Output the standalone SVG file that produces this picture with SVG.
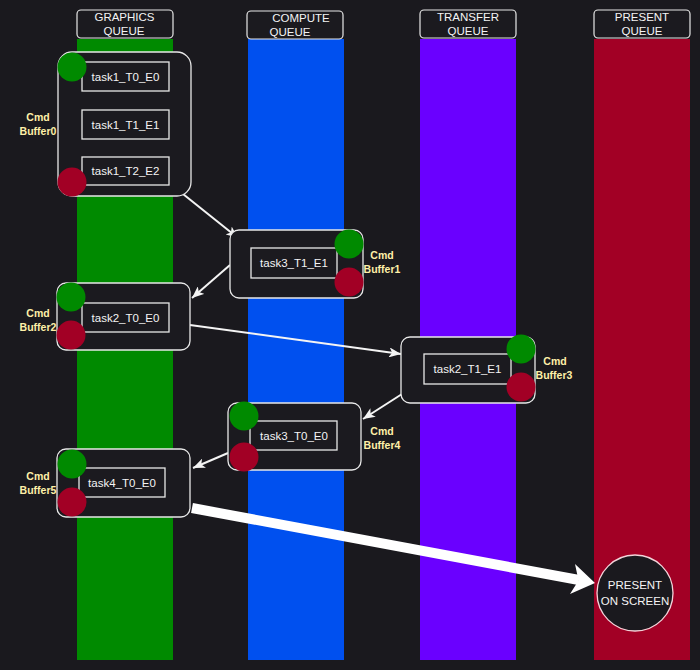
<svg xmlns="http://www.w3.org/2000/svg" width="700" height="670" viewBox="0 0 700 670">
<defs>
<style>
.hdr{fill:#1b1a1f;stroke:#e8e8e8;stroke-width:1.2}
.cb{fill:#1b1a1f;stroke:#e8e8e8;stroke-width:1.3}
.task{fill:#1b1a1f;stroke:#e8e8e8;stroke-width:1.3}
.t{font-family:"Liberation Sans",Arial,sans-serif;fill:#f4f4f4;text-anchor:middle}
.ht{font-size:11.5px}
.tt{font-size:11.5px}
.lb{font-family:"Liberation Sans",Arial,sans-serif;font-size:10.5px;font-weight:bold;fill:#fff0a8;text-anchor:middle}
.g{fill:#008a00}
.r{fill:#a20025}
.c{stroke:#f4f4f4;stroke-width:2;fill:none}
</style>
<marker id="ah" viewBox="0 0 12 10" refX="12" refY="5" markerWidth="12" markerHeight="10" markerUnits="userSpaceOnUse" orient="auto">
<path d="M0,0 L12,5 L0,10 L3,5 Z" fill="#f4f4f4"/>
</marker>
</defs>
<rect x="0" y="0" width="700" height="670" fill="#1a191e"/>

<g id="graphics-queue">
<rect x="77" y="39" width="96" height="621" fill="#008a00"/>
<rect class="hdr" x="77" y="10" width="96" height="28" rx="4"/>
<text class="t ht" x="124.5" y="21">GRAPHICS</text>
<text class="t ht" x="124" y="35">QUEUE</text>
</g>
<g id="compute-queue">
<rect x="248" y="39" width="96" height="621" fill="#0050ef"/>
<rect class="hdr" x="247" y="11" width="96" height="28" rx="4"/>
<text class="t ht" x="301" y="22">COMPUTE</text>
<text class="t ht" x="290" y="36">QUEUE</text>
</g>
<g id="transfer-queue">
<rect x="420" y="39" width="96" height="621" fill="#6a00ff"/>
<rect class="hdr" x="420" y="10" width="96" height="28" rx="4"/>
<text class="t ht" x="468" y="21">TRANSFER</text>
<text class="t ht" x="468" y="35">QUEUE</text>
</g>
<g id="present-queue">
<rect x="594" y="39" width="96" height="621" fill="#a20025"/>
<rect class="hdr" x="594" y="10" width="96" height="28" rx="4"/>
<text class="t ht" x="642" y="21">PRESENT</text>
<text class="t ht" x="642" y="35">QUEUE</text>
</g>

<g id="connectors">
<line class="c" x1="183" y1="194" x2="238" y2="238" marker-end="url(#ah)"/>
<line class="c" x1="230" y1="265" x2="192" y2="298" marker-end="url(#ah)"/>
<line class="c" x1="190" y1="325" x2="401" y2="354" marker-end="url(#ah)"/>
<line class="c" x1="402" y1="394" x2="363" y2="419" marker-end="url(#ah)"/>
<line class="c" x1="228" y1="453" x2="193" y2="468" marker-end="url(#ah)"/>
<line x1="192" y1="508" x2="579" y2="580" stroke="#ffffff" stroke-width="10"/>
<polygon points="595,583 575,564 578.5,580.5 570,594" fill="#ffffff"/>
</g>

<g id="cmd-buffer0">
<rect class="cb" x="58" y="52" width="133" height="144" rx="14"/>
<rect class="task" x="82" y="62" width="87" height="29"/>
<text class="t tt" x="125.5" y="80.5">task1_T0_E0</text>
<rect class="task" x="82" y="110" width="87" height="29"/>
<text class="t tt" x="125.5" y="128.5">task1_T1_E1</text>
<rect class="task" x="82" y="157" width="87" height="28"/>
<text class="t tt" x="125.5" y="175">task1_T2_E2</text>
<circle class="g" cx="72" cy="67" r="14.5"/>
<circle class="r" cx="72" cy="182" r="14.5"/>
<text class="lb" x="38" y="121">Cmd</text>
<text class="lb" x="38" y="135">Buffer0</text>
</g>

<g id="cmd-buffer1">
<rect class="cb" x="230" y="230" width="133" height="68" rx="9"/>
<rect class="task" x="251" y="248" width="86" height="30"/>
<text class="t tt" x="294" y="267">task3_T1_E1</text>
<circle class="g" cx="349" cy="244" r="14.5"/>
<circle class="r" cx="349" cy="282" r="14.5"/>
<text class="lb" x="382" y="259">Cmd</text>
<text class="lb" x="382" y="273">Buffer1</text>
</g>

<g id="cmd-buffer2">
<rect class="cb" x="57" y="283" width="133" height="67" rx="9"/>
<rect class="task" x="82" y="303" width="87" height="29"/>
<text class="t tt" x="125.5" y="321.5">task2_T0_E0</text>
<circle class="g" cx="71" cy="297" r="14.5"/>
<circle class="r" cx="71" cy="335" r="14.5"/>
<text class="lb" x="38" y="317">Cmd</text>
<text class="lb" x="38" y="331">Buffer2</text>
</g>

<g id="cmd-buffer3">
<rect class="cb" x="401" y="337" width="134" height="66" rx="9"/>
<rect class="task" x="424" y="354" width="87" height="30"/>
<text class="t tt" x="467.5" y="373">task2_T1_E1</text>
<circle class="g" cx="521" cy="349" r="14.5"/>
<circle class="r" cx="521" cy="387" r="14.5"/>
<text class="lb" x="555" y="365">Cmd</text>
<text class="lb" x="554" y="379">Buffer3</text>
</g>

<g id="cmd-buffer4">
<rect class="cb" x="228" y="403" width="133" height="67" rx="9"/>
<rect class="task" x="250" y="421" width="87" height="29"/>
<text class="t tt" x="294" y="439.5">task3_T0_E0</text>
<circle class="g" cx="244" cy="416" r="14.5"/>
<circle class="r" cx="244" cy="457" r="14.5"/>
<text class="lb" x="382" y="435">Cmd</text>
<text class="lb" x="382" y="449">Buffer4</text>
</g>

<g id="cmd-buffer5">
<rect class="cb" x="57" y="449" width="133" height="68" rx="9"/>
<rect class="task" x="79" y="468" width="86" height="29"/>
<text class="t tt" x="122" y="486.5">task4_T0_E0</text>
<circle class="g" cx="72" cy="464" r="14.5"/>
<circle class="r" cx="72" cy="502" r="14.5"/>
<text class="lb" x="38" y="480">Cmd</text>
<text class="lb" x="38" y="494">Buffer5</text>
</g>

<g id="present-on-screen">
<circle cx="635" cy="593" r="38" fill="#1a191e" stroke="#f2d4da" stroke-width="1.3"/>
<text class="t" x="635" y="589" font-size="11.5">PRESENT</text>
<text class="t" x="635" y="605" font-size="11.5">ON SCREEN</text>
</g>
</svg>
